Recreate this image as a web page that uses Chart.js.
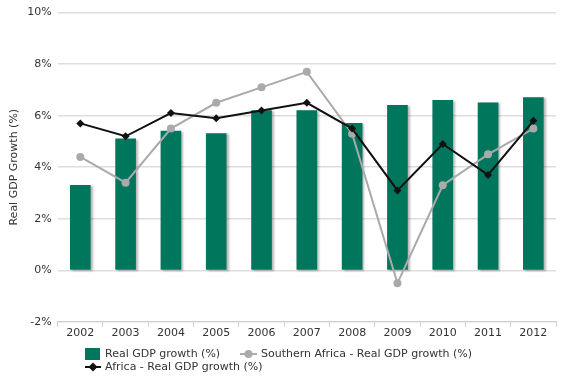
<!DOCTYPE html>
<html>
<head>
<meta charset="utf-8">
<script src="https://cdn.jsdelivr.net/npm/chart.js@4/dist/chart.umd.min.js"></script>
<style>
html,body{margin:0;padding:0;background:#fff;}
#wrap{width:564px;height:378px;}
</style>
</head>
<body>
<div id="wrap"><canvas id="c" width="564" height="378"></canvas></div>
<script>
const years = ["2002","2003","2004","2005","2006","2007","2008","2009","2010","2011","2012"];
const realGdpGrowth = [3.3, 5.1, 5.4, 5.3, 6.2, 6.2, 5.7, 6.4, 6.6, 6.5, 6.7];
const southernAfrica = [4.4, 3.4, 5.5, 6.5, 7.1, 7.7, 5.3, -0.5, 3.3, 4.5, 5.5];
const africa = [5.7, 5.2, 6.1, 5.9, 6.2, 6.5, 5.5, 3.1, 4.9, 3.7, 5.8];
const seriesNames = ["Real GDP growth (%)", "Southern Africa - Real GDP growth (%)", "Africa - Real GDP growth (%)"];
const yTitle = "Real GDP Growth (%)";

const GREEN = "#00775c";
const GRAY = "#aaaaaa";
const BLACK = "#111111";
const FONT = "DejaVu Sans";

const shadowPlugin = {
  id: "barShadow",
  beforeDatasetDraw(chart, args) {
    if (args.index === 0) {
      const ctx = chart.ctx;
      ctx.save();
      ctx.shadowColor = "rgba(0,0,0,0.28)";
      ctx.shadowOffsetX = 2;
      ctx.shadowOffsetY = 1;
      ctx.shadowBlur = 2;
    }
  },
  afterDatasetDraw(chart, args) {
    if (args.index === 0) chart.ctx.restore();
  }
};

const legendPlugin = {
  id: "customLegend",
  afterDraw(chart) {
    const ctx = chart.ctx;
    ctx.save();
    ctx.font = "11px '" + FONT + "'";
    ctx.fillStyle = "#333";
    ctx.textBaseline = "middle";
    ctx.textAlign = "left";
    let y1 = 354, y2 = 367;
    ctx.fillStyle = GREEN;
    ctx.fillRect(85, y1 - 6, 15, 12);
    ctx.fillStyle = "#333";
    ctx.fillText(seriesNames[0], 105, y1);
    ctx.strokeStyle = GRAY; ctx.lineWidth = 2;
    ctx.beginPath(); ctx.moveTo(240, y1); ctx.lineTo(257, y1); ctx.stroke();
    ctx.fillStyle = GRAY;
    ctx.beginPath(); ctx.arc(248.5, y1, 4, 0, Math.PI * 2); ctx.fill();
    ctx.fillStyle = "#333";
    ctx.fillText(seriesNames[1], 261, y1);
    ctx.strokeStyle = BLACK; ctx.lineWidth = 2;
    ctx.beginPath(); ctx.moveTo(85, y2); ctx.lineTo(101, y2); ctx.stroke();
    ctx.fillStyle = BLACK;
    ctx.beginPath(); ctx.moveTo(93, y2 - 4.5); ctx.lineTo(97.5, y2); ctx.lineTo(93, y2 + 4.5); ctx.lineTo(88.5, y2); ctx.closePath(); ctx.fill();
    ctx.fillStyle = "#333";
    ctx.fillText(seriesNames[2], 105, y2);
    ctx.restore();
  }
};

new Chart(document.getElementById("c"), {
  data: {
    labels: years,
    datasets: [
      {
        type: "bar",
        label: seriesNames[0],
        data: realGdpGrowth,
        backgroundColor: GREEN,
        barThickness: 20,
        order: 3
      },
      {
        type: "line",
        label: seriesNames[1],
        data: southernAfrica,
        borderColor: GRAY,
        backgroundColor: GRAY,
        borderWidth: 2,
        pointStyle: "circle",
        pointRadius: 4,
        pointBorderWidth: 0,
        tension: 0,
        order: 2
      },
      {
        type: "line",
        label: seriesNames[2],
        data: africa,
        borderColor: BLACK,
        backgroundColor: BLACK,
        borderWidth: 2,
        pointStyle: "rectRot",
        pointRadius: 4,
        pointBorderWidth: 0,
        tension: 0,
        order: 1
      }
    ]
  },
  options: {
    responsive: false,
    animation: false,
    layout: { padding: { top: 8, right: 8, bottom: 38, left: 8 } },
    plugins: {
      legend: { display: false },
      tooltip: { enabled: false }
    },
    scales: {
      x: {
        offset: true,
        grid: { offset: true, drawOnChartArea: false, drawTicks: true, tickLength: 5, color: "#cfcfcf" },
        border: { display: true, color: "#cfcfcf", width: 1 },
        ticks: { font: { family: FONT, size: 11 }, color: "#333", padding: 0, maxRotation: 0 }
      },
      y: {
        min: -2,
        max: 10,
        ticks: {
          stepSize: 2,
          font: { family: FONT, size: 11 },
          color: "#333",
          padding: 6,
          callback: v => v + "%"
        },
        grid: { color: "#dddddd", lineWidth: 1.5, drawTicks: false },
        border: { display: false },
        title: { display: true, text: yTitle, font: { family: FONT, size: 11 }, color: "#333", padding: { top: 0, bottom: 0 } }
      }
    }
  },
  plugins: [shadowPlugin, legendPlugin]
});
</script>
</body>
</html>
